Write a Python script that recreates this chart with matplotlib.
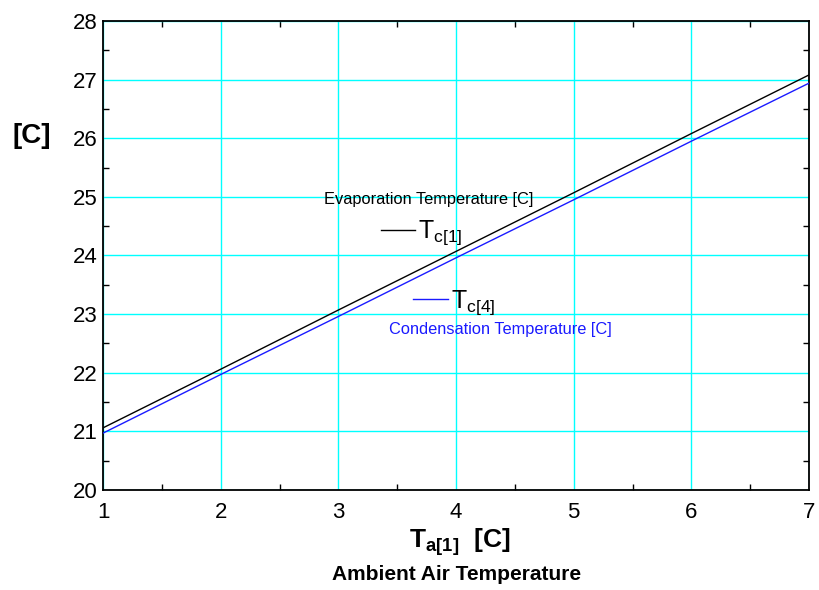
import matplotlib
matplotlib.use("Agg")
import matplotlib.pyplot as plt
from matplotlib.ticker import MultipleLocator

plt.rcParams['font.family'] = ['Liberation Sans', 'DejaVu Sans']
plt.rcParams['mathtext.fontset'] = 'custom'
plt.rcParams['mathtext.rm'] = 'Liberation Sans'
plt.rcParams['mathtext.it'] = 'Liberation Sans'
plt.rcParams['mathtext.bf'] = 'Liberation Sans:bold'

# Ambient air temperature [C]
ambient = [1, 2, 3, 4, 5, 6, 7]
# Evaporation temperature T_c[1] [C]
t_c1 = [21.06, 22.06, 23.07, 24.07, 25.07, 26.08, 27.08]
# Condensation temperature T_c[4] [C]
t_c4 = [20.97, 21.97, 22.96, 23.96, 24.95, 25.95, 26.94]

x_ticks = [1, 2, 3, 4, 5, 6, 7]
y_ticks = [20, 21, 22, 23, 24, 25, 26, 27, 28]

fig = plt.figure(figsize=(8.19, 5.90), dpi=100)
ax = fig.add_axes([0.1258, 0.1695, 0.862, 0.7949])

ax.plot(ambient, t_c1, color='black', lw=1.0, zorder=3)
ax.plot(ambient, t_c4, color='#1a1aff', lw=1.0, zorder=3)

ax.set_xlim(1, 7)
ax.set_ylim(20, 28)
ax.set_xticks(x_ticks)
ax.set_yticks(y_ticks)
ax.xaxis.set_minor_locator(MultipleLocator(0.5))
ax.yaxis.set_minor_locator(MultipleLocator(0.5))
ax.grid(True, which='major', color='#00ffff', lw=1.0, zorder=1)
ax.tick_params(which='both', direction='in', top=True, right=True,
               labelsize=16)
ax.tick_params(which='major', length=0)
ax.tick_params(axis='x', which='major', pad=9)
ax.tick_params(axis='y', which='major', pad=4)
ax.tick_params(which='minor', length=4, width=1)
for s in ax.spines.values():
    s.set_linewidth(1.3)

# Series annotations
ax.text(3.77, 24.95, 'Evaporation Temperature [C]', fontsize=11.8,
        color='black', ha='center', va='center')
ax.plot([3.36, 3.65], [24.43, 24.43], color='black', lw=1.0)
ax.text(3.675, 24.297, r'$\mathrm{T_{c[1]}}$', fontsize=18, color='black',
        ha='left', va='baseline')
ax.plot([3.635, 3.93], [23.25, 23.25], color='#1a1aff', lw=1.0)
ax.text(3.955, 23.107, r'$\mathrm{T_{c[4]}}$', fontsize=18, color='black',
        ha='left', va='baseline')
ax.text(4.38, 22.73, 'Condensation Temperature [C]', fontsize=11.8,
        color='#1a1aff', ha='center', va='center')

# Axis labels
fig.text(0.562, 0.071, r'$\mathbf{T_{a[1]}}$  [C]', fontsize=19,
         fontweight='bold', ha='center', va='baseline')
fig.text(0.557, 0.027, 'Ambient Air Temperature', fontsize=15,
         fontweight='bold', ha='center', va='center')
fig.text(0.0385, 0.769, '[C]', fontsize=20, fontweight='bold',
         ha='center', va='center')

fig.savefig('out.png', dpi=100)
